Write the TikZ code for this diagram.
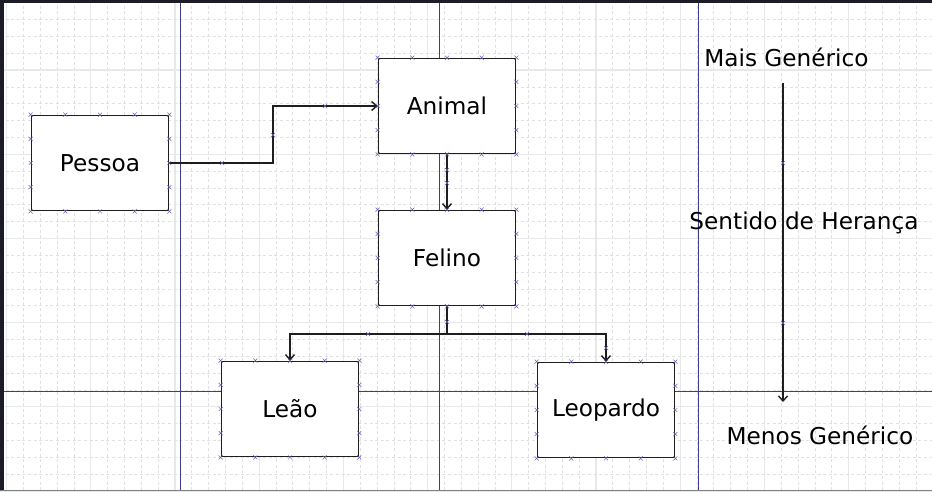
\documentclass[tikz,border=0pt]{standalone}
\usepackage{fontspec}
\setmainfont{DejaVu Sans}
\usetikzlibrary{positioning,arrows.meta,calc}
\definecolor{frame}{HTML}{1C1C28}
\definecolor{pagebrk}{HTML}{3D3D8F}
\definecolor{gridmin}{HTML}{DEE0E2}
\definecolor{gridmaj}{HTML}{E6E8E9}
\definecolor{cpoint}{HTML}{6565B5}
\definecolor{ink}{HTML}{1E1E1E}
\newcommand{\cpmark}[1]{\draw[cpt] #1 ++(-2,-2) -- ++(4,4) ++(-4,0) -- ++(4,-4);}

\begin{document}
\begin{tikzpicture}[x=1pt,y=-1pt,
  font=\fontsize{23.2}{27}\selectfont,
  blk/.style={draw=ink,line width=1.7pt,fill=white,minimum width=137pt,minimum height=95pt,inner sep=0pt},
  lbl/.style={inner sep=1pt},
  wire/.style={draw=ink,line width=1.4pt,-{Straight Barb[length=5pt,width=9pt]}},
  cpt/.style={draw=cpoint,line width=0.5pt},
  minor/.style={draw=gridmin,line width=0.6pt,dash pattern=on 3pt off 2.6pt},
  major/.style={draw=gridmaj,line width=1.2pt},
  brk/.style={draw=pagebrk,line width=0.9pt}]
\useasboundingbox (0,0) rectangle (932,491);
\fill[white] (0,0) rectangle (932,491);
% grid
\foreach \i in {0,...,55} {
  \pgfmathsetmacro{\gx}{6.5+16.84*\i}
  \pgfmathtruncatemacro{\gm}{mod(\i,5)}
  \ifnum\gm=0 \draw[major] (\gx,0) -- (\gx,491); \else \draw[minor] (\gx,0) -- (\gx,491); \fi
}
\foreach \i in {0,...,29} {
  \pgfmathsetmacro{\gy}{2.6+16.84*\i}
  \pgfmathtruncatemacro{\gm}{mod(\i+1,5)}
  \ifnum\gm=0 \draw[major] (0,\gy) -- (932,\gy); \else \draw[minor] (0,\gy) -- (932,\gy); \fi
}
% page breaks and frame
\foreach \px in {180,439,698} \draw[brk] (\px,0) -- (\px,491);
\draw[brk] (0,391) -- (932,391);
\draw[frame,line width=3pt] (0,1) -- (932,1);
\draw[frame,line width=5pt] (1,0) -- (1,491);
\draw[gray,line width=1.2pt] (0,490.4) -- (932,490.4);
% classes
\node[blk] (pessoa) at (100,163) {Pessoa};
\node[blk] (animal) at (447,106) {Animal};
\node[blk] (felino) at (447,258) {Felino};
\node[blk] (leao) at (290,409) {Leão};
\node[blk] (leopardo) at (606,410) {Leopardo};
% inheritance links
\coordinate (bend) at (273,163);
\coordinate (split) at (447,334);
\draw[wire] (pessoa.east) -- (bend) |- (animal.west);
\draw[wire] (animal.south) -- (felino.north);
\draw[wire] (felino.south) -- (split) -| (leao.north);
\draw[wire] (split) -| (leopardo.north);
% legend
\node[lbl] (mais) at (786.5,57) {Mais Genérico};
\node[lbl] (sentido) at (804,223) {Sentido de Herança};
\node[lbl] (menos) at (820,435) {Menos Genérico};
\coordinate (top) at (783,83);
\coordinate (tip) at (783,402);
\draw[wire] (top) -- (tip);
% connection points
\foreach \b in {pessoa,animal,felino,leao,leopardo} {
  \foreach \t in {0,0.25,0.5,0.75,1} {
    \cpmark{($(\b.north west)!\t!(\b.north east)$)}
    \cpmark{($(\b.south west)!\t!(\b.south east)$)}
  }
  \foreach \t in {0.25,0.5,0.75} {
    \cpmark{($(\b.north west)!\t!(\b.south west)$)}
    \cpmark{($(\b.north east)!\t!(\b.south east)$)}
  }
}
\foreach \cx/\cy in {222/163,273/135,325/106,447/170,447/183,447/322,368/334,527/334,606/348,783/163,783/323} {
  \cpmark{(\cx,\cy)}
}
\end{tikzpicture}
\end{document}
